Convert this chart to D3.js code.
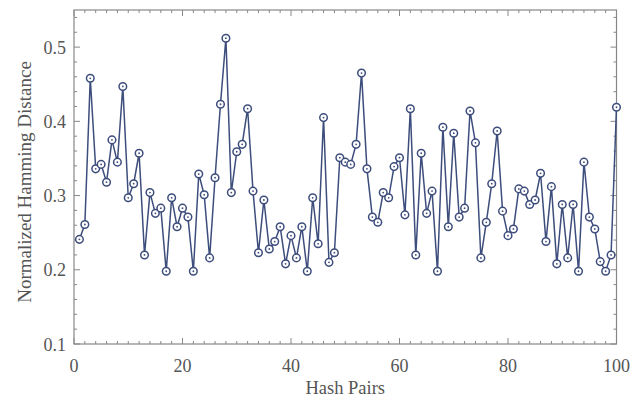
<!DOCTYPE html>
<html><head><meta charset="utf-8">
<script src="https://cdn.jsdelivr.net/npm/d3@7"></script>
<style>body{margin:0;background:#fff} text{font-family:"Liberation Serif","Times New Roman","DejaVu Serif",serif;}</style>
</head><body><svg id="c" width="633" height="401"></svg>
<script>
const values = [
0.241,0.261,0.458,0.336,0.342,0.318,0.375,0.345,0.447,0.297,
0.316,0.357,0.220,0.304,0.276,0.283,0.198,0.297,0.258,0.283,
0.271,0.198,0.329,0.301,0.216,0.324,0.423,0.512,0.304,0.359,
0.369,0.417,0.306,0.223,0.294,0.228,0.238,0.258,0.208,0.246,
0.216,0.258,0.198,0.297,0.235,0.405,0.210,0.223,0.351,0.345,
0.342,0.369,0.465,0.336,0.271,0.264,0.304,0.297,0.339,0.351,
0.274,0.417,0.220,0.357,0.276,0.306,0.198,0.392,0.258,0.384,
0.271,0.283,0.414,0.371,0.216,0.264,0.316,0.387,0.279,0.246,
0.255,0.309,0.306,0.288,0.294,0.330,0.238,0.312,0.208,0.288,
0.216,0.288,0.198,0.345,0.271,0.255,0.211,0.198,0.220,0.419];
const xTicks = [0,20,40,60,80,100];
const yTicks = [0.1,0.2,0.3,0.4,0.5];
const xLabel = "Hash Pairs";
const yLabel = "Normalized Hamming Distance";

const svg = d3.select("#c");
const L=74, R=616.5, T=10, B=344;
const x = d3.scaleLinear().domain([0,100]).range([L,R]);
const y = d3.scaleLinear().domain([0.1,0.55]).range([B,T]);
const frame = "#888", txt = "#555", col = "#3d4d7c";

const xMinor = d3.range(0,101,2);
const yMinor = d3.range(0.1,0.551,0.02);
const g = svg.append("g").attr("stroke",frame).attr("stroke-width",1);
function isMajor(v, arr){return arr.some(t=>Math.abs(t-v)<1e-6);}
xMinor.forEach(v=>{
  const len = isMajor(v,xTicks)?6:3;
  g.append("line").attr("x1",x(v)).attr("x2",x(v)).attr("y1",B).attr("y2",B-len);
  g.append("line").attr("x1",x(v)).attr("x2",x(v)).attr("y1",T).attr("y2",T+len);
});
yMinor.forEach(v=>{
  const len = isMajor(v,yTicks)?6:3;
  g.append("line").attr("y1",y(v)).attr("y2",y(v)).attr("x1",L).attr("x2",L+len);
  g.append("line").attr("y1",y(v)).attr("y2",y(v)).attr("x1",R).attr("x2",R-len);
});
svg.append("rect").attr("x",L).attr("y",T).attr("width",R-L).attr("height",B-T)
  .attr("fill","none").attr("stroke",frame).attr("stroke-width",1.2);

svg.append("g").selectAll("text").data(xTicks).join("text")
  .attr("x",d=>x(d)).attr("y",372).attr("text-anchor","middle")
  .attr("font-size",18).attr("fill",txt).text(d=>d);
svg.append("g").selectAll("text").data(yTicks).join("text")
  .attr("x",L-8).attr("y",d=>y(d)+6.5).attr("text-anchor","end")
  .attr("font-size",18).attr("fill",txt).text(d=>d3.format(".1f")(d));
svg.append("text").attr("x",(L+R)/2).attr("y",394).attr("text-anchor","middle")
  .attr("font-size",18.5).attr("fill",txt).text(xLabel);
svg.append("text").attr("transform",`translate(31,${(T+B)/2+5}) rotate(-90)`).attr("text-anchor","middle")
  .attr("font-size",19).attr("fill",txt).text(yLabel);

const pts = values.map((v,i)=>[i+1,v]);
svg.append("path").datum(pts)
  .attr("d",d3.line().x(d=>x(d[0])).y(d=>y(d[1])))
  .attr("fill","none").attr("stroke",col).attr("stroke-width",1.5);
const m = svg.append("g").selectAll("g").data(pts).join("g");
m.append("circle").attr("cx",d=>x(d[0])).attr("cy",d=>y(d[1])).attr("r",3.8)
  .attr("fill","#fff").attr("stroke",col).attr("stroke-width",1.5);
m.append("circle").attr("cx",d=>x(d[0])).attr("cy",d=>y(d[1])).attr("r",0.9).attr("fill",col);
</script></body></html>
